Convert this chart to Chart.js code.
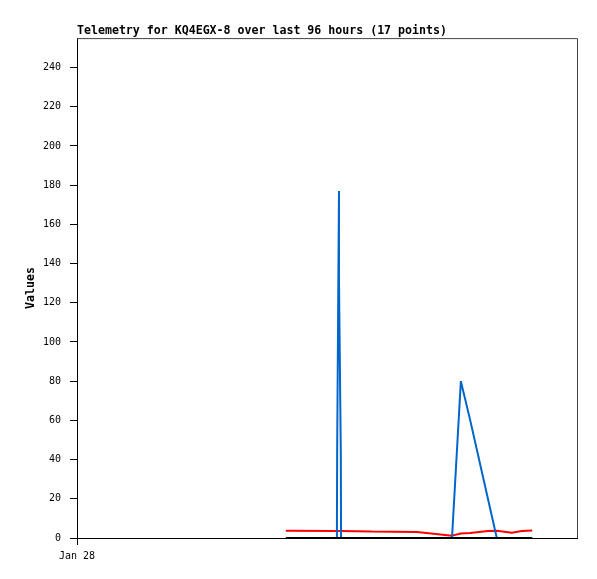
<!DOCTYPE html>
<html>
<head>
<meta charset="utf-8">
<script src="https://cdn.jsdelivr.net/npm/chart.js@4"></script>
<style>
  html, body { margin: 0; padding: 0; background: #fff; }
  #wrap { width: 597px; height: 579px; }
</style>
</head>
<body>
<div id="wrap"><canvas id="chart" width="597" height="579"></canvas></div>
<script>
// hours since Jan 28 00:00 (x axis covers 96 hours)
const hours = [40.1, 49.9, 49.95, 50.3, 50.3, 50.65, 50.7, 56.6, 65.3, 72.0, 73.7, 75.5, 78.9, 80.6, 83.5, 85.4, 87.4];
const blueValues = [0, 0, 44, 177, 132, 44, 0, 0, 0, 0, 80, 60, 20, 0, 0, 0, 0];
const redValues = [3.7, 3.6, 3.6, 3.6, 3.6, 3.6, 3.6, 3.3, 3.1, 1.2, 2.3, 2.6, 3.6, 3.7, 2.7, 3.6, 3.8];
const blackValues = [0, 0, 0, 0, 0, 0, 0, 0, 0, 0, 0, 0, 0, 0, 0, 0, 0];
const yTicks = [0, 20, 40, 60, 80, 100, 120, 140, 160, 180, 200, 220, 240];
const xTicks = [0];
const xTickLabels = ['Jan 28'];

const toPoints = vals => vals.map((v, i) => ({ x: hours[i], y: v }));

// gray frame on top and right of the plot area
const frame = {
    id: 'frame',
    beforeDatasetsDraw(chart) {
        const a = chart.chartArea, ctx = chart.ctx;
        ctx.save();
        ctx.strokeStyle = '#444';
        ctx.lineWidth = 1;
        ctx.beginPath();
        ctx.moveTo(a.left, a.top + 0.5);
        ctx.lineTo(a.right + 0.5, a.top + 0.5);
        ctx.lineTo(a.right + 0.5, a.bottom);
        ctx.stroke();
        ctx.restore();
    }
};

new Chart(document.getElementById('chart'), {
    type: 'line',
    data: {
        datasets: [
            { data: toPoints(blackValues), borderColor: '#000000', order: 1 },
            { data: toPoints(blueValues), borderColor: '#0066cc', order: 2 },
            { data: toPoints(redValues), borderColor: '#ff0000', order: 3 }
        ]
    },
    options: {
        responsive: false,
        animation: false,
        layout: { padding: { left: 0, right: 20, top: 0, bottom: 0 } },
        elements: {
            point: { radius: 0 },
            line: { borderWidth: 2, tension: 0, borderJoinStyle: 'bevel', fill: false }
        },
        plugins: {
            legend: { display: false },
            tooltip: { enabled: false },
            title: {
                display: true,
                text: 'Telemetry for KQ4EGX-8 over last 96 hours (17 points)',
                align: 'start',
                fullSize: false,
                color: '#000',
                font: { family: 'DejaVu Sans Mono', size: 11.6, weight: 'bold', lineHeight: 1 },
                padding: { top: 25.5, bottom: 1 }
            }
        },
        scales: {
            x: {
                type: 'linear',
                min: 0,
                max: 96,
                afterBuildTicks: s => { s.ticks = xTicks.map(v => ({ value: v })); },
                afterFit: s => { s.height = 41; },
                ticks: {
                    color: '#000',
                    font: { family: 'DejaVu Sans Mono', size: 10 },
                    padding: 5,
                    maxRotation: 0,
                    callback: (v, i) => xTickLabels[i]
                },
                grid: { drawOnChartArea: false, tickLength: 7, color: '#000' },
                border: { color: '#000', width: 1 }
            },
            y: {
                type: 'linear',
                min: 0,
                max: 255,
                afterBuildTicks: s => { s.ticks = yTicks.map(v => ({ value: v })); },
                afterFit: s => { s.width = 77; },
                ticks: {
                    color: '#000',
                    font: { family: 'DejaVu Sans Mono', size: 10 },
                    padding: 9
                },
                grid: { drawOnChartArea: false, tickLength: 7, color: '#000' },
                border: { color: '#000', width: 1 },
                title: {
                    display: true,
                    text: 'Values',
                    color: '#000',
                    font: { family: 'DejaVu Sans Mono', size: 11.6, weight: 'bold' },
                    padding: { top: 24, bottom: 0 }
                }
            }
        }
    },
    plugins: [frame]
});
</script>
</body>
</html>
